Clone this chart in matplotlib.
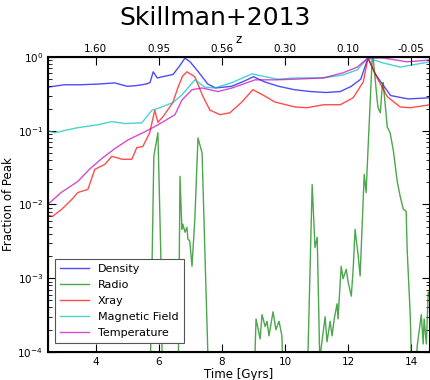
import numpy as np
import matplotlib
matplotlib.use("Agg")
import matplotlib.pyplot as plt
from matplotlib.ticker import LogLocator, NullFormatter

# ---- data ----
t_density = [2.48, 3.0, 3.5, 4.1, 4.6, 5.0, 5.3, 5.6, 5.72, 5.82, 5.95, 6.2, 6.45, 6.65, 6.83,
             7.0, 7.25, 7.55, 7.8, 8.3, 8.7, 9.0, 9.35, 9.8, 10.3, 10.8, 11.3, 11.75, 12.1,
             12.4, 12.63, 12.85, 13.05, 13.35, 13.9, 14.6]
density = [0.39, 0.42, 0.42, 0.43, 0.445, 0.40, 0.41, 0.43, 0.45, 0.63, 0.52, 0.55, 0.58, 0.75,
           0.97, 0.85, 0.63, 0.43, 0.38, 0.40, 0.47, 0.54, 0.46, 0.40, 0.36, 0.34, 0.33, 0.34,
           0.40, 0.50, 0.97, 0.60, 0.45, 0.30, 0.27, 0.28]

t_radio = [5.70, 5.84, 5.97, 6.06, 6.13, 6.60, 6.67, 6.73, 6.76, 6.83, 6.89, 6.92, 6.98, 7.05,
           7.14, 7.24, 7.37, 7.46, 7.62, 8.98, 9.08, 9.21, 9.27, 9.37, 9.43, 9.49, 9.62, 9.71,
           9.81, 9.90, 9.98, 10.67, 10.86, 10.95, 11.02, 11.10, 11.17, 11.27, 11.33, 11.43, 11.49,
           11.56, 11.65, 11.68, 11.78, 11.84, 11.94, 12.0, 12.10, 12.16, 12.22, 12.32, 12.38,
           12.51, 12.57, 12.63, 12.76, 12.79, 12.86, 12.92, 12.95, 13.02, 13.08, 13.11, 13.17,
           13.24, 13.33, 13.43, 13.56, 13.65, 13.75, 13.84, 13.87, 13.97, 14.06, 14.19, 14.32,
           14.38, 14.41, 14.48, 14.54, 14.60]
radio = [1e-5, 0.045, 0.094, 0.0022, 1e-5, 1e-5, 0.024, 0.0046, 0.0054, 0.0042, 0.0049, 0.0034,
         0.0032, 0.00145, 0.0063, 0.080, 0.050, 0.0022, 1e-5, 1e-5, 2.8e-4, 1.5e-4, 3.2e-4,
         2.2e-4, 2.6e-4, 1.65e-4, 3.5e-4, 2.0e-4, 2.6e-4, 1.65e-4, 1e-5, 1e-5, 0.0186, 0.0026,
         0.0036, 8e-5, 1.37e-4, 3.0e-4, 1.37e-4, 2.6e-4, 1.65e-4, 2.8e-4, 4.5e-4, 2.8e-4,
         1.45e-3, 9.8e-4, 1.32e-3, 8.9e-4, 5.7e-4, 1.32e-3, 4.6e-3, 2.0e-3, 1.07e-3, 0.0256,
         0.0145, 0.055, 0.91, 1.0, 0.49, 0.26, 0.205, 0.175, 0.39, 0.45, 0.24, 0.113, 0.094,
         0.055, 0.020, 0.0129, 0.0086, 0.0081, 0.0025, 3.1e-4, 1e-5, 1.2e-4, 3.2e-4, 1.28e-4,
         2.8e-4, 1.28e-4, 6.5e-4, 5.2e-4]

t_xray = [2.48, 2.63, 2.92, 3.24, 3.43, 3.75, 3.97, 4.29, 4.51, 4.83, 5.14, 5.30, 5.49, 5.71,
          5.87, 5.97, 6.13, 6.44, 6.60, 6.75, 6.89, 7.14, 7.40, 7.62, 7.94, 8.25, 8.63, 8.98,
          9.27, 9.68, 10.32, 10.70, 11.21, 11.75, 12.16, 12.48, 12.63, 12.92, 13.24, 13.65,
          13.97, 14.6]
xray = [0.0071, 0.0069, 0.0086, 0.0117, 0.0145, 0.016, 0.030, 0.035, 0.045, 0.041, 0.041, 0.059,
        0.061, 0.094, 0.19, 0.13, 0.155, 0.24, 0.38, 0.55, 0.63, 0.54, 0.29, 0.19, 0.165, 0.175,
        0.245, 0.36, 0.31, 0.245, 0.21, 0.205, 0.225, 0.225, 0.28, 0.46, 0.97, 0.52, 0.29, 0.21,
        0.205, 0.225]

t_bfield = [2.48, 2.70, 3.43, 4.06, 4.51, 4.92, 5.46, 5.78, 6.03, 6.44, 6.73, 7.14, 7.46, 7.78,
            8.32, 8.95, 9.37, 9.78, 10.32, 11.21, 11.84, 12.29, 12.63, 13.11, 13.65, 14.6]
bfield = [0.10, 0.094, 0.11, 0.12, 0.133, 0.125, 0.128, 0.19, 0.205, 0.24, 0.306, 0.49, 0.39,
          0.38, 0.45, 0.59, 0.54, 0.50, 0.52, 0.52, 0.57, 0.67, 0.97, 0.83, 0.73, 0.86]

t_temp = [2.48, 2.9, 3.43, 3.8, 4.19, 4.6, 5.02, 5.56, 5.97, 6.51, 6.73, 7.05, 7.37, 7.87, 8.32,
          9.05, 9.68, 10.32, 11.21, 11.84, 12.29, 12.63, 13.11, 13.87, 14.6]
temp = [0.010, 0.0145, 0.0205, 0.030, 0.042, 0.057, 0.075, 0.097, 0.12, 0.165, 0.26, 0.36, 0.38,
        0.34, 0.38, 0.49, 0.49, 0.50, 0.52, 0.61, 0.73, 0.97, 0.97, 0.86, 0.91]

x_ticks = [4, 6, 8, 10, 12, 14]
z_labels = ["1.60", "0.95", "0.56", "0.30", "0.10", "-0.05"]

series = [
    ("Density", t_density, density, (0, 0, 1)),
    ("Radio", t_radio, radio, (0, 0.5, 0)),
    ("Xray", t_xray, xray, (1, 0, 0)),
    ("Magnetic Field", t_bfield, bfield, (0, 0.75, 0.75)),
    ("Temperature", t_temp, temp, (0.75, 0, 0.75)),
]

plt.rcParams['font.family'] = ['DejaVu Sans']
fig = plt.figure(figsize=(4.31, 3.80), dpi=100)
ax = fig.add_axes([0.111, 0.074, 0.887, 0.776])

for name, t, v, c in series:
    ax.plot(t, v, color=c, alpha=0.7, lw=1.0, label=name)

ax.set_yscale('log')
ax.set_ylim(1e-4, 1.0)
ax.set_xlim(2.48, 14.6)
ax.set_xticks(x_ticks)
ax.yaxis.set_minor_locator(LogLocator(base=10, subs=np.arange(2, 10)))
ax.yaxis.set_minor_formatter(NullFormatter())
ax.tick_params(which='both', direction='in', labelsize=7.5, right=True, top=False)
ax.tick_params(which='major', length=6, width=0.8)
ax.tick_params(which='minor', length=3, width=0.6)
for s in ax.spines.values():
    s.set_linewidth(1.5)

ax.set_xlabel("Time [Gyrs]", fontsize=8.5, labelpad=1)
ax.set_ylabel("Fraction of Peak", fontsize=8.5, labelpad=2)

ax2 = ax.twiny()
ax2.set_xlim(ax.get_xlim())
ax2.set_xticks(x_ticks)
ax2.set_xticklabels(z_labels)
ax2.tick_params(direction='in', labelsize=7.5, length=6, width=0.8, pad=2)
ax2.set_xlabel("z", fontsize=8.5, labelpad=1)

leg = ax.legend(loc='lower left', fontsize=8, fancybox=False, framealpha=1,
                handlelength=2.6, borderpad=0.45, labelspacing=0.55,
                bbox_to_anchor=(0.005, 0.01))
leg.get_frame().set_edgecolor('#555555')
leg.get_frame().set_linewidth(0.8)

fig.text(0.5, 0.952, "Skillman+2013", ha='center', va='center', fontsize=18,
         color='black')

fig.savefig("out.png", dpi=100)
